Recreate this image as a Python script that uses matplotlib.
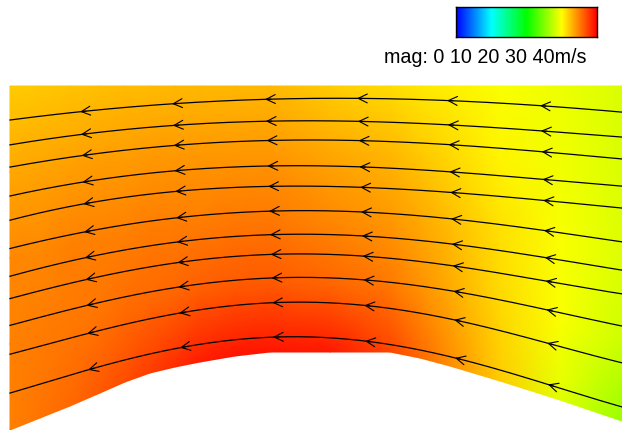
import matplotlib
matplotlib.use('Agg')
import matplotlib.pyplot as plt
import numpy as np
from matplotlib.colors import LinearSegmentedColormap

# Velocity magnitude (m/s) on a curvilinear grid: columns along x, rows from top wall to bottom wall
grid_x = [10, 40, 70, 100, 125, 150, 175, 200, 235, 270, 330, 390, 420, 450, 500, 560, 622]
top_wall = [86] * len(grid_x)
bottom_wall = [430, 418, 406, 393, 382, 373, 367, 362, 356, 352, 352, 352, 358, 366, 381, 400, 421]
row_frac = [0.0, 0.25, 0.5, 0.75, 1.0]
speed = [
    [36.0, 36.1, 36.3, 36.5, 36.6, 36.7, 36.8, 36.9, 36.9, 36.9, 36.0, 35.3, 34.8, 34.4, 33.5, 32.9, 32.0],
    [37.6, 37.7, 37.9, 38.0, 38.1, 38.2, 38.3, 38.3, 38.3, 38.3, 37.6, 36.8, 36.2, 35.5, 34.2, 33.1, 32.0],
    [38.9, 39.0, 39.2, 39.3, 39.35, 39.4, 39.5, 39.5, 39.6, 39.6, 39.0, 38.2, 37.5, 36.7, 35.0, 33.5, 32.2],
    [39.2, 39.4, 39.6, 39.9, 40.1, 40.4, 40.6, 40.8, 41.0, 41.1, 40.6, 39.6, 38.6, 37.6, 35.5, 33.5, 31.5],
    [39.3, 39.8, 40.3, 41.0, 41.6, 42.3, 43.0, 43.7, 44.0, 44.1, 43.9, 41.9, 40.3, 38.7, 36.0, 32.4, 29.3],
]

# Streamlines: y position of each line at the stations below
stream_x = [10, 60, 140, 200, 310, 430, 490, 570, 622]
stream_y = [
    [120, 114, 106, 102, 99, 99, 103, 108, 112],
    [145, 137, 128, 124, 121, 123, 128, 133, 137],
    [167, 159, 148, 144, 140, 143, 148, 154, 159],
    [196, 186, 174, 169, 166, 170, 175, 182, 186],
    [220, 209, 195, 189, 187, 190, 196, 203, 208],
    [248, 238, 222, 215, 211, 217, 223, 234, 242],
    [276, 264, 247, 239, 235, 241, 249, 262, 270],
    [298, 287, 268, 259, 255, 262, 272, 285, 294],
    [325, 313, 293, 284, 278, 287, 298, 315, 326],
    [354, 341, 322, 308, 303, 315, 328, 349, 363],
    [393, 378, 357, 343, 338, 351, 368, 391, 407],
]
arrow_x = [80, 172, 265, 357, 447, 540]

vmax = 45.0
cmap = LinearSegmentedColormap.from_list(
    'mag', ['#0000ff', '#00ffff', '#00ff00', '#ffff00', '#ff0000'])

fig = plt.figure(figsize=(6.22, 4.30), dpi=100)
ax = fig.add_axes([0, 0, 1, 1])

# field
gx = np.array(grid_x, dtype=float)
top = np.array(top_wall, dtype=float)
bot = np.array(bottom_wall, dtype=float)
fr = np.array(row_frac)[:, None]
X = np.tile(gx, (len(row_frac), 1))
Y = top + fr * (bot - top)
ax.pcolormesh(X, Y, np.array(speed), cmap=cmap, vmin=0, vmax=vmax,
              shading='gouraud', antialiased=True)

# streamlines (smoothed through the read points) with open arrowheads pointing left
xs = np.linspace(stream_x[0], stream_x[-1], 300)
for i, ys in enumerate(stream_y):
    coef = np.polyfit(stream_x, ys, 4)
    ax.plot(xs, np.polyval(coef, xs), color='black', lw=0.9)
    for pos in arrow_x:
        xt = pos + 0.8 * i
        ax.annotate('', xy=(xt, np.polyval(coef, xt)),
                    xytext=(xt + 6, np.polyval(coef, xt + 6)),
                    arrowprops=dict(arrowstyle='->,head_length=0.65,head_width=0.32',
                                    color='black', lw=0.8, shrinkA=0, shrinkB=0))

ax.set_xlim(0, 622)
ax.set_ylim(430, 0)
ax.axis('off')

# colour bar legend
cax = fig.add_axes([456 / 622, 1 - 37 / 430, 141 / 622, 30 / 430])
cax.imshow(np.linspace(0, 1, 256)[None, :], cmap=cmap, aspect='auto',
           extent=[0, 1, 0, 1])
cax.set_xticks([])
cax.set_yticks([])
for s in cax.spines.values():
    s.set_linewidth(1.0)
    s.set_color('black')

fig.text(586 / 622, 1 - 63 / 430, 'mag: 0 10 20 30 40m/s', ha='right', va='baseline',
         fontsize=14.2, family='Liberation Sans')

fig.savefig('out.png', dpi=100)
